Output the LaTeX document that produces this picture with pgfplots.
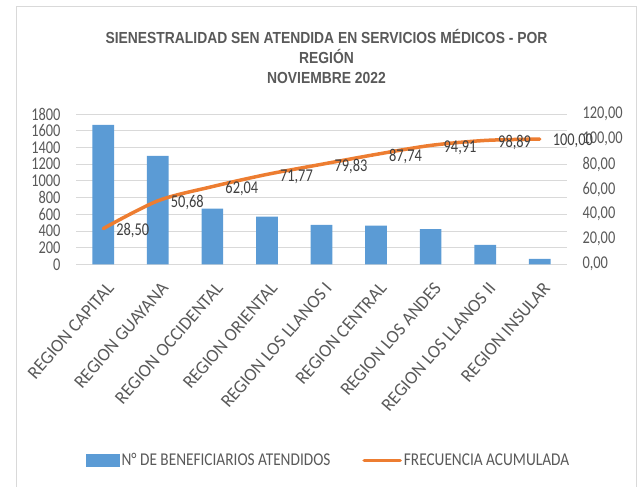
\documentclass[border=0pt]{standalone}
\usepackage{fontspec}
\setmainfont{Carlito}
\newfontfamily\sq[FakeStretch=0.8]{Carlito}
\newfontfamily\sqleg[FakeStretch=0.85]{Carlito}
\newfontfamily\sqcat[FakeStretch=0.97]{Carlito}
\newfontfamily\ttl[FakeStretch=0.867]{Liberation Sans}
\usepackage{pgfplots}
\usepackage{pgfplotstable}
\pgfplotsset{compat=1.18}

\definecolor{barblue}{HTML}{5B9BD5}
\definecolor{lineorange}{HTML}{ED7D31}
\definecolor{txt}{HTML}{595959}
\definecolor{lbl}{HTML}{404040}
\definecolor{gridc}{HTML}{D9D9D9}

% beneficiarios atendidos por region
\pgfplotstableread{
x n
0 1670
1 1300
2 666
3 570
4 472
5 464
6 420
7 233
8 65
}\beneficiarios

% frecuencia acumulada (%)
\pgfplotstableread{
x f
0 28.50
1 50.68
2 62.04
3 71.77
4 79.83
5 87.74
6 94.91
7 98.89
8 100.00
}\frecuencia

\pgfplotsset{
  base/.style={
    scale only axis, width=491bp, height=150.3bp,
    at={(76bp,222.7bp)}, anchor=south west,
    xmin=-0.5, xmax=8.5,
    axis line style={draw=none}, tick style={draw=none},
    /pgf/number format/assume math mode=true,
    ticklabel style={font=\sq\fontsize{18bp}{18bp}\selectfont, text=txt},
  }
}

\begin{document}
\begin{tikzpicture}
\useasboundingbox (0,0) rectangle (641bp,487bp);
\draw[gridc, line width=0.75bp] (16bp,-10bp) rectangle (636bp,481bp);

\node[align=center, text=txt, font=\ttl\bfseries\fontsize{16bp}{20bp}\selectfont]
  at (326.5bp,430.5bp) {SIENESTRALIDAD SEN ATENDIDA EN SERVICIOS MÉDICOS - POR\\REGIÓN\\NOVIEMBRE 2022};

\begin{axis}[base,
  ymin=0, ymax=1800, ytick={0,200,...,1800},
  ymajorgrids, grid style={gridc, line width=0.75bp},
  /pgf/number format/1000 sep={},
  yticklabel style={xshift=-12bp},
  xtick={0,...,8},
  xticklabels={REGION CAPITAL,REGION GUAYANA,REGION OCCIDENTAL,REGION ORIENTAL,REGION LOS LLANOS I,REGION CENTRAL,REGION LOS ANDES,REGION LOS LLANOS II,REGION INSULAR},
  xticklabel style={xshift=2bp, yshift=-12bp, rotate=49, anchor=north east, font=\sqcat\fontsize{18.5bp}{18.5bp}\selectfont, text=txt},
  legend columns=2,
  legend style={at={(0.514,-1.305)}, anchor=center, draw=none, fill=none,
    font=\sqleg\fontsize{18bp}{18bp}\selectfont, text=txt,
    /tikz/every even column/.append style={column sep=30bp}},
]
\addplot[ybar, bar width=21.7bp, fill=barblue, draw=none,
  legend image code/.code={\fill[barblue] (0bp,-6.5bp) rectangle (34bp,6.5bp);}]
  table[x=x,y=n]{\beneficiarios};
\addlegendentry{N° DE BENEFICIARIOS ATENDIDOS}
\addlegendimage{legend image code/.code={\draw[lineorange, line width=3.5bp, line cap=round] (0bp,0bp) -- (36bp,0bp);}}
\addlegendentry{FRECUENCIA ACUMULADA}
\end{axis}

\begin{axis}[base,
  ymin=0, ymax=120, ytick={0,20,...,120},
  axis y line*=right, hide x axis,
  yticklabel style={xshift=12bp, /pgf/number format/.cd, fixed, fixed zerofill, precision=2, use comma},
]
\addplot[lineorange, line width=3.5bp, smooth, line cap=round,
  nodes near coords={\pgfmathprintnumber[fixed,fixed zerofill,precision=2,use comma,assume math mode=true]{\pgfplotspointmeta}},
  every node near coord/.append style={anchor=west, xshift=8bp, yshift=-2bp,
    font=\sq\fontsize{18bp}{18bp}\selectfont, text=lbl}]
  table[x=x,y=f]{\frecuencia};
\end{axis}
\end{tikzpicture}
\end{document}
